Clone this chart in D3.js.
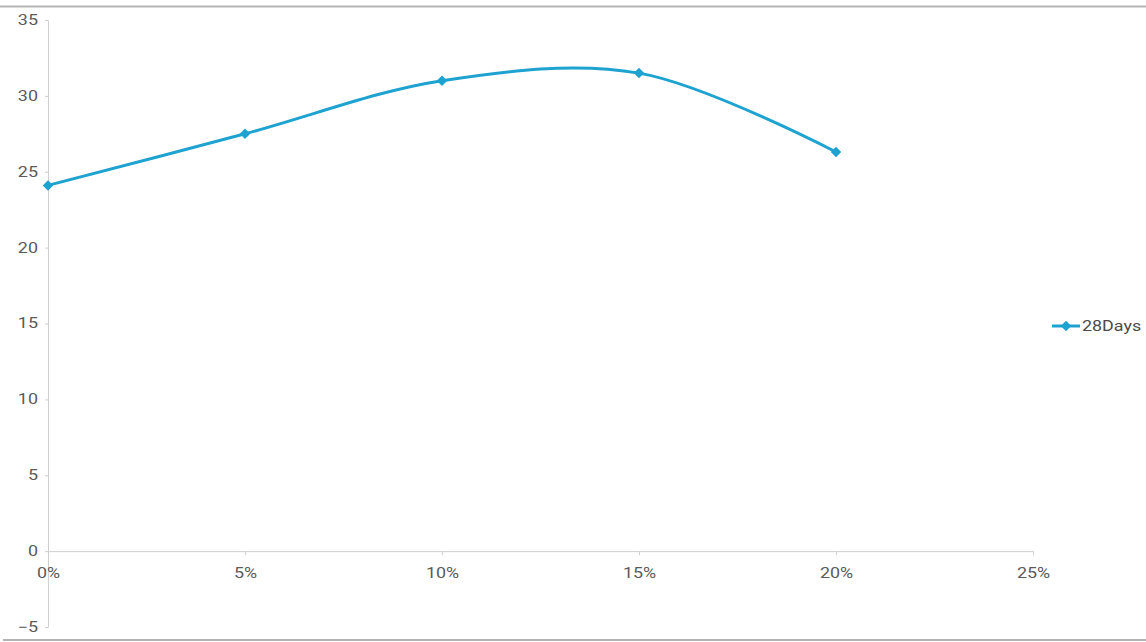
<!DOCTYPE html>
<html><head><meta charset="utf-8">
<script src="https://cdn.jsdelivr.net/npm/d3@7"></script>
<style>body{margin:0;background:#fff}svg{display:block}text{font-family:Roboto,"Liberation Sans",sans-serif}</style>
</head><body><svg id="c" width="1146" height="642"></svg>
<script>
const categories = [0, 0.05, 0.10, 0.15, 0.20];
const values28Days = [24.1, 27.5, 31.0, 31.5, 26.3];
const xTicks = [0, 0.05, 0.10, 0.15, 0.20, 0.25];
const yTicks = [-5, 0, 5, 10, 15, 20, 25, 30, 35];
const seriesName = "28Days";

const svg = d3.select("#c");
const color = "#1ea2d0";
const sx = 1.28;
const x = d3.scaleLinear().domain([0, 0.25]).range([48, 1033]);
const y = d3.scaleLinear().domain([-5, 35]).range([627, 20]);

// frame lines
svg.append("line").attr("x1",0).attr("x2",1146).attr("y1",6.5).attr("y2",6.5).attr("stroke","#b5b5b5").attr("stroke-width",2);
svg.append("line").attr("x1",3).attr("x2",1146).attr("y1",640).attr("y2",640).attr("stroke","#9a9a9a").attr("stroke-width",1.5);

// y axis
const ya = svg.append("g").attr("transform",`translate(${x(0)},0)`)
  .call(d3.axisLeft(y).tickValues(yTicks).tickSize(3).tickPadding(7).tickFormat(d3.format("d")));
ya.select(".domain").attr("stroke","#cfcfcf");
ya.selectAll(".tick line").attr("stroke","#cfcfcf");
ya.selectAll("text").attr("fill","#5a5a5a").attr("font-size",14)
  .attr("x",0).attr("transform",`translate(-10,0) scale(${sx},1)`);

// x axis at y=0
const xa = svg.append("g").attr("transform",`translate(0,${y(0)})`)
  .call(d3.axisBottom(x).tickValues(xTicks).tickSize(4).tickSizeOuter(4).tickPadding(13).tickFormat(d3.format(".0%")));
xa.select(".domain").attr("stroke","#cfcfcf");
xa.selectAll(".tick line").attr("stroke","#cfcfcf");
xa.selectAll("text").attr("fill","#5a5a5a").attr("font-size",14)
  .attr("transform",`scale(${sx},1)`);

const data = categories.map((c,i)=>({x:c,y:values28Days[i]}));
const line = d3.line().x(d=>x(d.x)).y(d=>y(d.y)).curve(d3.curveCatmullRom.alpha(0.5));
svg.append("path").datum(data).attr("d",line).attr("fill","none").attr("stroke",color).attr("stroke-width",3);

const sym = d3.symbol().type(d3.symbolDiamond2).size(70);
svg.selectAll(".pt").data(data).join("path").attr("class","pt")
  .attr("transform",d=>`translate(${x(d.x)},${y(d.y)})`).attr("d",sym).attr("fill",color);

// legend
const lg = svg.append("g").attr("transform","translate(1052,326)");
lg.append("line").attr("x1",0).attr("x2",28).attr("stroke",color).attr("stroke-width",3);
lg.append("path").attr("transform","translate(14,0)").attr("d",sym).attr("fill",color);
lg.append("text").attr("transform",`translate(30,0) scale(${sx},1)`).attr("dy","0.35em").attr("font-size",14).attr("fill","#4a4a4a").text(seriesName);
</script></body></html>
